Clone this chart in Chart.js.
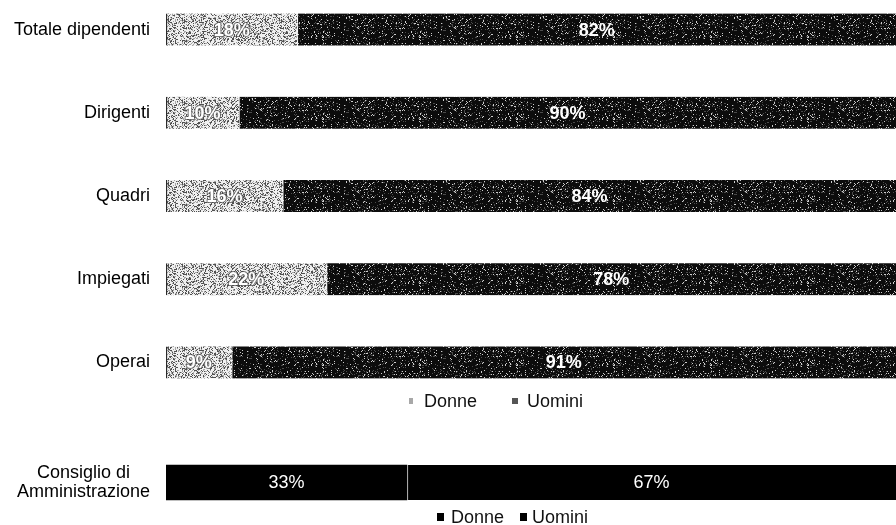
<!DOCTYPE html>
<html>
<head>
<meta charset="utf-8">
<script src="https://cdn.jsdelivr.net/npm/chart.js@4.4.1/dist/chart.umd.min.js"></script>
<style>
  html, body { margin: 0; padding: 0; background: #fff; }
  body { width: 896px; height: 525px; position: relative; overflow: hidden; font-family: "Liberation Sans", Arial, sans-serif; }
  #wrapStaff { position: absolute; left: 0; top: -12.5px; width: 896px; height: 416px; }
  #wrapBoard { position: absolute; left: 0; top: 455px; width: 896px; height: 55px; }
  .legend { position: absolute; display: flex; align-items: center; font-size: 18px; line-height: 20px; color: #111; white-space: nowrap; }
  .legend .item { display: flex; align-items: center; }
  .legend .box { display: inline-block; }
</style>
</head>
<body>
<div id="wrapStaff"><canvas id="staffChart"></canvas></div>
<div class="legend" id="staffLegend" style="left:409px; top:391px;"></div>
<div id="wrapBoard"><canvas id="boardChart"></canvas></div>
<div class="legend" id="boardLegend" style="left:437px; top:507px;"></div>
<script>
// composizione per genere (%)
var staffCategories = ["Totale dipendenti", "Dirigenti", "Quadri", "Impiegati", "Operai"];
var staffDonne = [18, 10, 16, 22, 9];
var staffUomini = [82, 90, 84, 78, 91];

var boardCategories = [["Consiglio di", "Amministrazione"]];
var boardDonne = [33];
var boardUomini = [67];

var seriesNames = ["Donne", "Uomini"];

var FONT = '"Liberation Sans", Arial, sans-serif';

// speckled fill, deterministic so it looks the same on every load
function hash(n) {
  var s = Math.sin(n * 12.9898 + 78.233) * 43758.5453;
  return s - Math.floor(s);
}
function grain(seed, levels, fallback) {
  var w = 97, h = 41;
  var c = document.createElement('canvas');
  c.width = w; c.height = h;
  var g = c.getContext('2d');
  var img = g.createImageData(w, h);
  for (var i = 0; i < w * h; i++) {
    var r = hash(i + seed), v = fallback;
    for (var k = 0; k < levels.length; k++) {
      if (r < levels[k][0]) { v = levels[k][1]; break; }
    }
    img.data[i * 4] = img.data[i * 4 + 1] = img.data[i * 4 + 2] = v;
    img.data[i * 4 + 3] = 255;
  }
  g.putImageData(img, 0, 0);
  return g.createPattern(c, 'repeat');
}

var lightFill = grain(7, [[0.24, 80], [0.44, 165]], 240);
var darkFill = grain(311, [[0.06, 205], [0.15, 75]], 12);

// percent labels centred in every segment
var valueLabels = {
  id: 'valueLabels',
  afterDatasetsDraw: function (chart, args, opts) {
    var ctx = chart.ctx;
    ctx.save();
    ctx.font = (opts.weight || 'bold') + ' 18px ' + FONT;
    ctx.textAlign = 'center';
    ctx.textBaseline = 'middle';
    chart.data.datasets.forEach(function (ds, i) {
      chart.getDatasetMeta(i).data.forEach(function (bar, j) {
        var p = bar.getProps(['x', 'y', 'base'], true);
        var x = (p.x + p.base) / 2;
        var txt = ds.data[j] + '%';
        if (opts.outline && i === 0) {
          ctx.lineWidth = 2;
          ctx.strokeStyle = 'rgba(70,70,70,0.7)';
          ctx.strokeText(txt, x, p.y + 1);
        }
        ctx.fillStyle = '#fff';
        ctx.fillText(txt, x, p.y + 1);
      });
    });
    ctx.restore();
  }
};

function buildLegend(id, chart, boxes, gap) {
  var el = document.getElementById(id);
  chart.data.datasets.forEach(function (ds, i) {
    var item = document.createElement('span');
    item.className = 'item';
    if (i > 0) item.style.marginLeft = gap + 'px';
    var box = document.createElement('span');
    box.className = 'box';
    box.style.width = boxes[i].w + 'px';
    box.style.height = boxes[i].h + 'px';
    box.style.background = boxes[i].color;
    box.style.marginRight = boxes[i].space + 'px';
    item.appendChild(box);
    item.appendChild(document.createTextNode(ds.label));
    el.appendChild(item);
  });
}

function yAxis(extra) {
  var axis = {
    stacked: true,
    grid: { display: false, drawTicks: false },
    border: { display: false },
    ticks: { color: '#000', padding: 16, font: { family: FONT, size: 18, lineHeight: 1.1 } },
    afterFit: function (scale) {
      // fixed label column, and no extra room reserved above/below the bars
      scale.width = 166;
      scale.paddingTop = 0;
      scale.paddingBottom = 0;
    }
  };
  for (var k in extra) axis.ticks[k] = extra[k];
  return axis;
}

var xAxis = { stacked: true, min: 0, max: 100, display: false };

var staffChart = new Chart(document.getElementById('staffChart'), {
  type: 'bar',
  data: {
    labels: staffCategories,
    datasets: [{
      label: seriesNames[0],
      data: staffDonne,
      backgroundColor: lightFill,
      borderColor: '#2a2a2a',
      borderWidth: { left: 1.5, right: 0, top: 0, bottom: 0 },
      borderSkipped: false,
      barThickness: 32
    }, {
      label: seriesNames[1],
      data: staffUomini,
      backgroundColor: darkFill,
      borderColor: '#ffffff',
      borderWidth: { left: 1, right: 0, top: 0, bottom: 0 },
      borderSkipped: false,
      barThickness: 32
    }]
  },
  options: {
    indexAxis: 'y',
    responsive: true,
    maintainAspectRatio: false,
    animation: false,
    layout: { padding: 0 },
    scales: { x: xAxis, y: yAxis({}) },
    plugins: {
      legend: { display: false },
      tooltip: { enabled: false },
      valueLabels: { outline: true, weight: 'bold' }
    }
  },
  plugins: [valueLabels]
});

var boardChart = new Chart(document.getElementById('boardChart'), {
  type: 'bar',
  data: {
    labels: boardCategories,
    datasets: [{
      label: seriesNames[0],
      data: boardDonne,
      backgroundColor: '#000',
      barThickness: 35
    }, {
      label: seriesNames[1],
      data: boardUomini,
      backgroundColor: '#000',
      borderColor: '#d8d8d8',
      borderWidth: { left: 1.5, right: 0, top: 0, bottom: 0 },
      borderSkipped: false,
      barThickness: 35
    }]
  },
  options: {
    indexAxis: 'y',
    responsive: true,
    maintainAspectRatio: false,
    animation: false,
    layout: { padding: 0 },
    scales: { x: xAxis, y: yAxis({ crossAlign: 'center' }) },
    plugins: {
      legend: { display: false },
      tooltip: { enabled: false },
      valueLabels: { outline: false, weight: 'normal' }
    }
  },
  plugins: [valueLabels]
});

buildLegend('staffLegend', staffChart, [
  { w: 4, h: 6, color: '#a8a8a8', space: 11 },
  { w: 6, h: 6, color: '#555', space: 9 }
], 35);
buildLegend('boardLegend', boardChart, [
  { w: 7, h: 8, color: '#000', space: 7 },
  { w: 7, h: 8, color: '#000', space: 5 }
], 16);
</script>
</body>
</html>
